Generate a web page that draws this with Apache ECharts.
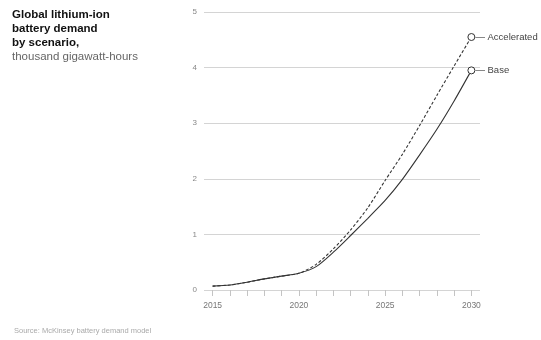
<!DOCTYPE html>
<html>
<head>
<meta charset="utf-8">
<script src="https://cdn.jsdelivr.net/npm/echarts@6/dist/echarts.min.js"></script>
<style>
  html, body { margin: 0; padding: 0; background: #fff; }
  #chart { width: 541px; height: 340px; }
</style>
</head>
<body>
<div id="chart"></div>
<script>
// Years on the horizontal axis
const years = ['2015','2016','2017','2018','2019','2020','2021','2022','2023','2024','2025','2026','2027','2028','2029','2030'];
// Demand, thousand GWh
const baseDemand = [0.07, 0.09, 0.14, 0.20, 0.25, 0.30, 0.42, 0.68, 0.98, 1.29, 1.61, 1.99, 2.43, 2.89, 3.40, 3.95];
const acceleratedDemand = [0.07, 0.09, 0.14, 0.20, 0.25, 0.30, 0.46, 0.74, 1.08, 1.48, 1.97, 2.44, 2.96, 3.50, 4.03, 4.55];
const yTicks = [0, 1, 2, 3, 4, 5];
const xLabelYears = ['2015', '2020', '2025', '2030'];

const FONT = 'Liberation Sans, Arial, sans-serif';
const chart = echarts.init(document.getElementById('chart'), null, { renderer: 'canvas' });

function endLabel(name) {
  return {
    show: true,
    position: 'right',
    distance: 0,
    formatter: (p) => p.dataIndex === years.length - 1 ? '— ' + name : '',
    color: '#444',
    fontFamily: FONT,
    fontSize: 9.5
  };
}

function series(name, data, type) {
  return {
    name: name,
    type: 'line',
    data: data,
    smooth: 0.25,
    showSymbol: true,
    symbol: 'circle',
    symbolSize: (v, p) => p.dataIndex === years.length - 1 ? 7 : 0,
    itemStyle: { color: '#fff', borderColor: '#333', borderWidth: 1 },
    lineStyle: { color: '#333', width: 1.1, type: type },
    label: endLabel(name),
    emphasis: { disabled: true },
    animation: false,
    z: type === 'solid' ? 3 : 2
  };
}

chart.setOption({
  backgroundColor: '#fff',
  animation: false,
  grid: { left: 204, right: 61, top: 12, bottom: 50 },
  xAxis: {
    type: 'category',
    data: years,
    boundaryGap: true,
    axisLine: { show: false },
    axisTick: {
      show: true, alignWithLabel: true, interval: 0, length: 6,
      lineStyle: { color: '#c4c4c4', width: 1 }
    },
    axisLabel: {
      interval: 0,
      formatter: (v) => xLabelYears.includes(v) ? v : '',
      color: '#777', fontFamily: FONT, fontSize: 8.5, margin: 11
    },
    splitLine: { show: false }
  },
  yAxis: {
    type: 'value',
    min: yTicks[0],
    max: yTicks[yTicks.length - 1],
    interval: 1,
    axisLine: { show: false },
    axisTick: { show: false },
    axisLabel: { color: '#888', fontFamily: FONT, fontSize: 8, margin: 7 },
    splitLine: { lineStyle: { color: '#d4d4d4', width: 1 } }
  },
  series: [
    series('Accelerated', acceleratedDemand, [3, 2]),
    series('Base', baseDemand, 'solid')
  ],
  graphic: [
    {
      type: 'text', left: 12, top: 8,
      style: {
        text: 'Global lithium-ion\nbattery demand\nby scenario,',
        fill: '#111', font: 'bold 11.5px ' + FONT, lineHeight: 14
      }
    },
    {
      type: 'text', left: 12, top: 50,
      style: {
        text: 'thousand gigawatt-hours',
        fill: '#666', font: '11.5px ' + FONT, lineHeight: 14
      }
    },
    {
      type: 'text', left: 14, top: 327,
      style: {
        text: 'Source: McKinsey battery demand model',
        fill: '#aaa', font: '7.5px ' + FONT
      }
    }
  ]
});
</script>
</body>
</html>
